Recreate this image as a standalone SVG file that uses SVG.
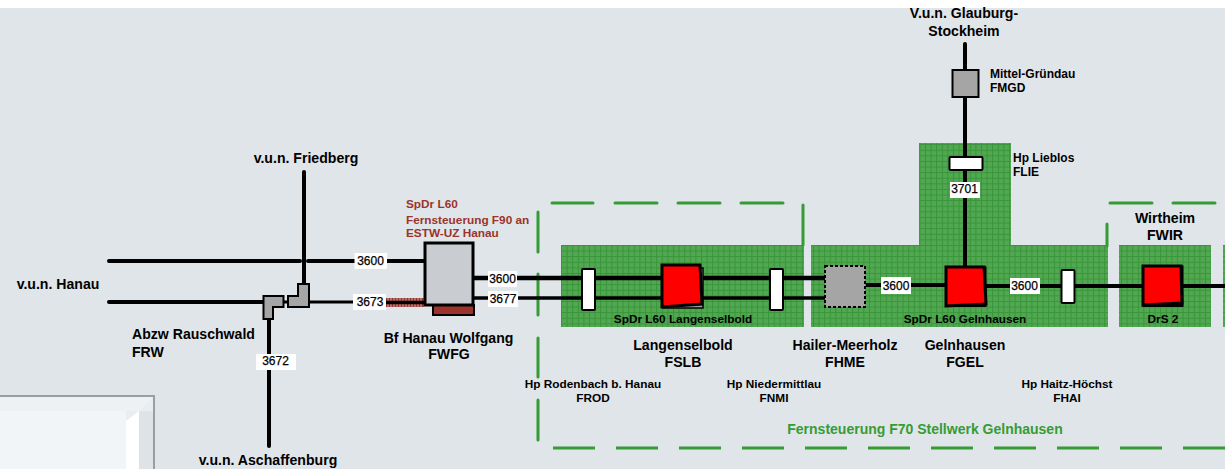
<svg xmlns="http://www.w3.org/2000/svg" width="1225" height="469" viewBox="0 0 1225 469">
<style>
text{font-family:"Liberation Sans",Arial,sans-serif;font-weight:bold;fill:#000}
.t{font-size:14.100px;text-anchor:middle}
.s{font-size:12px}
.m{font-size:11.800px;text-anchor:middle}
.r{font-size:11.800px;fill:#9a342c}
.n{font-size:12px;font-weight:normal;text-anchor:middle;stroke:#000;stroke-width:.25px}
.lb{fill:#fff}
.trk{stroke:#000;stroke-width:4;fill:none;stroke-linecap:round}
.thin{stroke:#000;stroke-width:3;fill:none}
.gd{stroke:#359c35;stroke-width:3;fill:none;stroke-linecap:round}
.zone{fill:url(#grid)}
.gray{fill:#a5a5a5;stroke:#000;stroke-width:2}
.wh{fill:#fff;stroke:#000;stroke-width:2}
.red{fill:#f00;stroke:#000;stroke-width:3}
</style>
<defs>
<pattern id="grid" width="5.600" height="5.600" patternUnits="userSpaceOnUse" x="561" y="245">
<rect width="5.600" height="5.600" fill="#52a852"/>
<path d="M0 .5H5.600M.5 0V5.600" stroke="#389538" stroke-width="1"/>
</pattern>
<pattern id="hatch" width="3" height="9" patternUnits="userSpaceOnUse" x="386" y="298">
<rect width="3" height="9" fill="#b56d68"/>
<rect width="1" height="9" fill="#9a342c"/>
</pattern>
</defs>
<rect width="1225" height="469" fill="#fff"/>
<rect y="8" width="1225" height="461" fill="#e0e5e9"/>

<g id="panel">
<rect x="0" y="395" width="155" height="74" fill="#9b9ea1"/>
<rect x="0" y="397" width="153" height="72" fill="#e9edf0"/>
<polygon points="0,397 153,397 139,411 0,411" fill="#eef1f4"/>
<polygon points="126,469 126,421 139,411 139,469" fill="#fff"/>
<rect x="139" y="411" width="14" height="58" fill="#dfe3e6"/>
<rect x="0" y="411" width="126" height="58" fill="#f1f5f8"/>
</g>

<g id="zones">
<rect class="zone" x="561" y="245" width="243" height="82"/>
<path class="zone" d="M811 245H919V143H1011V245H1108V327H811Z"/>
<rect class="zone" x="1119" y="245" width="92" height="82"/>
<rect class="zone" x="1223" y="245" width="2" height="82"/>
</g>

<g id="connectors">
<path class="gd" d="M552 203H593M615 203H657M678 203H720M741 203H783M803 205V245M538 212V252M538 274V315M538 338V377M538 400V440"/>
<path class="gd" d="M1110 203H1152M1173 203H1215M1107 224V246"/>
<path d="M553 448H1225" stroke="#359c35" stroke-width="3" fill="none" stroke-dasharray="42 21"/>
<path class="trk" d="M109 261H300M308 261H424"/>
<path class="trk" d="M109 302H264"/>
<path class="trk" d="M304 172V285"/>
<path class="trk" d="M269 318V446"/>
<path class="thin" d="M283 302H288M309 302H386"/>
<rect x="386" y="298" width="38" height="9" fill="url(#hatch)"/>
<path d="M386 302.500H424" stroke="#000" stroke-width="3.500"/>
<path d="M474 278H825" stroke="#000" stroke-width="4.500" fill="none"/>
<path d="M474 298H825" stroke="#000" stroke-width="3.500" fill="none"/>
<path d="M866 285H950M985 286H1225" stroke="#000" stroke-width="4" fill="none"/>
<path class="trk" d="M965 44V268"/>
</g>

<g id="abzw-rauschwald">
<path class="gray" d="M263.500 296H283.500V307H273V319H263.500Z"/>
<path class="gray" d="M298 284H309V307H288V296H298Z"/>
</g>
<g id="hanau-wolfgang">
<rect x="433" y="305" width="41" height="10" fill="#9a342c" stroke="#000" stroke-width="2"/>
<rect x="425" y="243" width="48" height="62" fill="#c9cdd1" stroke="#000" stroke-width="3"/>
</g>
<g id="fslb">
<rect x="663" y="268" width="40" height="40" fill="#a0a0a0" stroke="#000" stroke-width="1.500"/>
<path class="red" d="M662 265H700L702 304L662 307Z"/>
</g>
<g id="hp-rodenbach"><rect class="wh" x="582" y="269" width="13" height="41" rx="1"/></g>
<g id="hp-niedermittlau"><rect class="wh" x="770" y="269" width="13" height="41" rx="1"/></g>
<g id="fhme"><rect x="825" y="266" width="40" height="41" fill="#a5a5a5" stroke="#000" stroke-width="2" stroke-dasharray="3 2"/></g>
<g id="fgel">
<rect x="946" y="267" width="40" height="39.500" fill="#000" stroke="#000"/>
<path class="red" d="M946 267H984L986 304L946 306Z"/>
</g>
<g id="fhai"><rect class="wh" x="1061.500" y="270" width="13" height="33" rx="1"/></g>
<g id="fwir">
<rect x="1143" y="266" width="40" height="40.500" fill="#000" stroke="#000"/>
<path class="red" d="M1143 266H1181L1182 303L1143 305Z"/>
</g>
<g id="fmgd"><rect class="gray" x="952.500" y="70" width="26" height="27"/></g>
<g id="flie"><rect class="wh" x="949.500" y="157" width="33" height="13" rx="1"/></g>

<g id="labels">
<rect class="lb" x="354.500" y="253" width="32.500" height="16"/>
<rect class="lb" x="353" y="294" width="33" height="16"/>
<rect class="lb" x="256" y="354" width="40" height="16"/>
<rect class="lb" x="488" y="271" width="29" height="16"/>
<rect class="lb" x="488" y="291" width="30" height="16"/>
<rect class="lb" x="881" y="277" width="30" height="17"/>
<rect class="lb" x="1010" y="278" width="30" height="16"/>
<rect class="lb" x="950" y="182" width="30" height="16"/>
<text class="n" x="370.500" y="265">3600</text>
<text class="n" x="370" y="306">3673</text>
<text class="n" x="275.500" y="365">3672</text>
<text class="n" x="502.500" y="282.500">3600</text>
<text class="n" x="503" y="303">3677</text>
<text class="n" x="896" y="289.500">3600</text>
<text class="n" x="1024.500" y="290">3600</text>
<text class="n" x="964.500" y="193">3701</text>
</g>

<g id="texts">
<text class="t" x="306" y="162.500">v.u.n. Friedberg</text>
<text class="t" x="58" y="289">v.u.n. Hanau</text>
<text class="t" x="268" y="465">v.u.n. Aschaffenburg</text>
<text class="t" x="132" y="338.500" style="text-anchor:start">Abzw Rauschwald</text>
<text class="t" x="132" y="356.500" style="text-anchor:start">FRW</text>
<text class="t" x="448.500" y="342.500">Bf Hanau Wolfgang</text>
<text class="t" x="449" y="359">FWFG</text>
<text class="r" x="406" y="208">SpDr L60</text>
<text class="r" x="406" y="224">Fernsteuerung F90 an</text>
<text class="r" x="406" y="237">ESTW-UZ Hanau</text>
<text class="t" x="964" y="18">V.u.n. Glauburg-</text>
<text class="t" x="964" y="36">Stockheim</text>
<text class="s" x="990" y="78">Mittel-Gründau</text>
<text class="s" x="990" y="92">FMGD</text>
<text class="s" x="1013" y="162">Hp Lieblos</text>
<text class="s" x="1013" y="176">FLIE</text>
<text class="t" x="1165" y="223">Wirtheim</text>
<text class="t" x="1165" y="240">FWIR</text>
<text class="m" x="683" y="323">SpDr L60 Langenselbold</text>
<text class="m" x="965" y="323">SpDr L60 Gelnhausen</text>
<text class="m" x="1163" y="323">DrS 2</text>
<text class="t" x="683" y="349.500">Langenselbold</text>
<text class="t" x="683" y="367">FSLB</text>
<text class="t" x="845" y="349.500">Hailer-Meerholz</text>
<text class="t" x="845" y="367">FHME</text>
<text class="t" x="965" y="349.500">Gelnhausen</text>
<text class="t" x="965" y="367">FGEL</text>
<text class="m" x="593" y="388">Hp Rodenbach b. Hanau</text>
<text class="m" x="593" y="402">FROD</text>
<text class="m" x="774" y="388">Hp Niedermittlau</text>
<text class="m" x="774" y="402">FNMI</text>
<text class="m" x="1067" y="388">Hp Haitz-Höchst</text>
<text class="m" x="1067" y="402">FHAI</text>
<text class="t" x="925" y="434" style="fill:#359c35;font-size:14px">Fernsteuerung F70 Stellwerk Gelnhausen</text>
</g>
</svg>
